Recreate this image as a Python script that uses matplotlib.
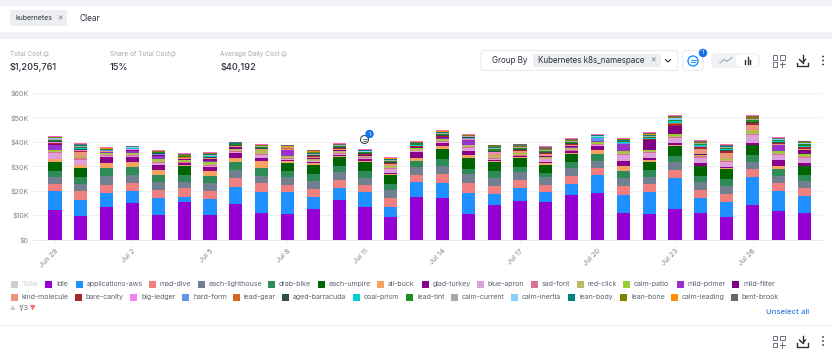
import numpy as np
import matplotlib
matplotlib.use("Agg")
import matplotlib.pyplot as plt
from matplotlib.patches import FancyBboxPatch, Rectangle, Circle, Polygon

plt.rcParams['font.family'] = ['Inter', 'DejaVu Sans']

# Data, daily cost in $K per namespace
dates = ["Jun 29", "Jun 30", "Jul 1", "Jul 2", "Jul 3", "Jul 4", "Jul 5", "Jul 6", "Jul 7", "Jul 8",
         "Jul 9", "Jul 10", "Jul 11", "Jul 12", "Jul 13", "Jul 14", "Jul 15", "Jul 16", "Jul 17", "Jul 18",
         "Jul 19", "Jul 20", "Jul 21", "Jul 22", "Jul 23", "Jul 24", "Jul 25", "Jul 26", "Jul 27", "Jul 28"]
y_ticks = [0, 10, 20, 30, 40, 50, 60]
y_labels = ["$0", "$10K", "$20K", "$30K", "$40K", "$50K", "$60K"]

idle = [11.9, 9.8, 13.3, 15.0, 10.0, 15.2, 10.2, 14.5, 10.9, 10.4, 12.6, 16.1, 13.4, 9.2, 17.3,
        16.9, 10.4, 14.1, 15.8, 15.3, 18.3, 19.1, 10.9, 10.4, 12.3, 10.8, 9.3, 14.1, 11.7, 10.7]
applications_aws = [7.8, 6.5, 5.7, 4.7, 6.8, 2.4, 6.5, 7.2, 8.4, 9.0, 5.0, 4.9, 6.0, 4.2, 6.2,
                    6.3, 8.6, 4.5, 5.1, 4.1, 4.5, 7.3, 7.4, 9.0, 13.0, 6.0, 6.0, 11.7, 8.0, 7.1]
mad_dive = [3.0, 3.4, 3.4, 3.5, 3.4, 3.3, 3.1, 3.4, 3.7, 3.0, 3.2, 3.3, 3.1, 3.4, 3.0,
            3.6, 4.0, 3.4, 3.4, 3.1, 3.2, 3.0, 3.6, 3.3, 3.1, 3.3, 3.4, 3.0, 3.3, 3.1]
each_lighthouse = [3.0, 3.0, 3.6, 3.3, 3.3, 2.6, 3.4, 3.3, 3.2, 3.1, 3.1, 3.2, 2.6, 3.3, 3.1,
                   3.5, 3.8, 3.3, 3.2, 3.2, 3.2, 2.7, 3.2, 3.0, 3.3, 3.4, 3.2, 3.0, 3.0, 3.1]
drab_bike = [2.3, 2.8, 3.1, 3.3, 2.9, 3.0, 2.8, 3.3, 3.0, 2.5, 3.1, 2.7, 2.9, 2.7, 2.6,
             2.6, 2.0, 2.6, 2.0, 1.5, 2.6, 2.9, 2.9, 2.7, 2.6, 2.7, 2.7, 3.0, 3.0, 2.6]
each_umpire = [3.6, 3.6, 0, 0, 0, 3.4, 0, 0, 0, 3.4, 3.6, 3.5, 3.6, 3.8, 0,
               4.1, 4.5, 3.9, 3.8, 3.5, 3.4, 0, 0, 3.3, 3.8, 3.9, 4.2, 3.7, 0, 3.5]
all_buck = [1.5, 1.3, 2.1, 1.9, 2.2, .5, 2.1, 1.8, 3.0, .6, .6, .6, .4, .4, 1.0,
            1.4, 1.4, .3, .3, .5, .3, 1.7, 2.1, .9, .7, 0, .4, .4, 1.1, 0]
glad_turkey = [0, 0, 2.5, 2.2, 2.0, .9, 1.7, 2.1, 1.0, .7, .5, .3, 1.1, .4, 2.7,
               1.0, 1.7, .6, .4, .6, .6, 1.7, 2.1, .8, .6, 1.1, .6, .7, 2.4, 1.1]
blue_apron = [2.2, 2.3, .5, .5, .6, .2, .4, .3, 1.6, .4, .3, .4, .3, 1.3, .2,
              .4, .9, .4, .2, 1.0, .2, .3, 2.4, 2.2, 2.3, 2.3, 1.9, 3.4, 2.0, 2.3]
sad_font = [.4, .5, .3, .3, .5, .2, .3, .3, .4, .3, .3, .4, .2, .4, .3,
            .4, .5, .3, .3, .3, .3, .3, .4, .2, .3, .5, .4, .3, .4, .3]
red_click = [.5, .3, .6, .5, .6, .5, .6, .7, 1.0, .5, .5, .8, .5, .7, .6,
             .7, .8, .6, .6, .5, .7, .2, .6, .4, .5, .3, .3, .3, .5, .3]
calm_patio = [.3, .2, .3, .4, .5, .4, .5, .3, .4, .3, .1, .2, .2, .2, .4,
              .4, .3, .2, .2, .2, .2, .7, .8, .3, .6, .5, .7, .7, .8, .8]
mild_primer = [2.2, 0, .4, .8, 1.6, 0, .4, 0, 0, 2.3, 0, 0, 0, 0, 0,
               .3, 1.7, 0, 0, 0, .3, .3, 2.7, 0, 0, 0, 0, 0, 2.5, 0]
mild_filter = [.3, .2, .2, .2, .3, .4, .9, .5, .2, .2, .4, .2, .2, .2, .3,
               .2, .2, .2, .3, .3, .3, .2, .1, 4.1, 3.3, .2, 0, 0, .2, 1.8]
kind_molecule = [.3, 2.0, .2, .1, 0, .3, .3, .4, .2, .3, .5, .5, .3, .7, .3,
                 .3, .3, 1.0, .7, .8, .6, .1, 0, .3, 0, 2.1, 2.3, 2.7, .3, .5]
bare_canity = [.4, .4, .2, .1, 0, .2, .2, .1, .1, 0, .4, .3, .1, .3, .1,
               .1, .1, .2, .4, .4, .3, 0, 0, .2, .8, .8, .7, .7, .2, .5]
big_ledger = [.2, .2, 0, .1, .1, 0, 0, 0, 0, 0, 0, 0, 0, .1, 0,
              0, 0, .1, 0, .2, .1, 0, 0, 0, 0, 0, 0, 0, 0, 0]
hard_form = [0, 0, .1, .2, .4, 0, .1, 0, 0, .1, 0, 0, .1, 0, 0,
             .1, .3, 0, 0, 0, 0, .9, .2, 0, .3, .2, 0, 0, .3, .1]
lead_gear = [0, .2, .1, 0, 0, .1, 0, .1, 0, .2, .1, 0, .1, .1, 0,
             .1, 0, .1, .1, .1, .1, 0, 0, .1, .2, 0, .3, .1, 0, 0]
aged_barracuda = [.4, .3, .1, .1, .1, .2, .2, .3, .3, .1, .2, .3, .3, .2, .3,
                  .2, .3, .4, .3, .3, .3, .1, .1, .1, .1, .3, .4, .2, .1, .2]
coal_prism = [.1, .4, .1, .2, .3, 0, .4, .2, .2, .1, 0, 0, .2, .3, .1,
              .3, .1, .1, 0, .1, .1, .3, .5, .2, .6, .1, .2, .1, .5, .4]
lead_tint = [.5, .4, .1, .1, .1, .2, .3, .2, .3, 0, .3, .4, .2, .3, .6,
             .5, .2, .7, .3, .3, .4, .1, .2, .4, .4, .5, .4, .7, .4, .6]
calm_current = [.4, .3, .1, .1, .1, .3, .3, .2, .2, .5, .3, .4, .2, .3, .2,
                .2, .2, .4, .3, .3, .3, .1, .2, .3, .3, .4, .4, .4, .2, .3]
calm_inertia = [.1, .1, 0, .1, .1, 0, .1, 0, .1, 0, .1, 0, .1, .1, 0,
                .1, .1, 0, 0, 0, 0, .5, .1, .1, .5, 0, 0, 0, .1, .1]
lean_body = [.2, .4, .1, .1, .1, .1, .3, .2, .2, 0, .4, .2, .4, .3, .2,
             .3, .1, .3, .2, .2, .2, .1, .3, .3, .3, .2, .3, .3, .2, .3]
lean_bone = [.2, .2, .1, .1, .1, .4, .2, .2, .2, 0, .3, .2, .1, .2, .3,
             .2, .1, .4, .4, .3, .3, .1, .2, .3, .2, .3, .2, .5, .1, .2]
calm_leading = [0, 0, .1, .1, 0, 0, 0, 0, 0, .3, .2, 0, 0, .2, 0,
                .1, .1, 0, 0, .1, 0, .1, .1, .2, .1, 0, 0, 0, 0, 0]
bent_brook = [.2, .3, .2, .1, .2, .4, .3, .2, .2, .2, .4, .4, .1, .2, .2,
              .2, .2, .4, .7, .6, .5, .1, .2, .6, .3, .4, .6, .5, .2, .3]
# series from the other legend pages, only the thin pink cap is visible
other_pages = [.3] * 30

series = [
    ("Idle", idle, "#9400D3"),
    ("applications-aws", applications_aws, "#1E90FF"),
    ("mad-dive", mad_dive, "#F08080"),
    ("each-lighthouse", each_lighthouse, "#708090"),
    ("drab-bike", drab_bike, "#2E8B57"),
    ("each-umpire", each_umpire, "#006400"),
    ("all-buck", all_buck, "#F4A460"),
    ("glad-turkey", glad_turkey, "#8B008B"),
    ("blue-apron", blue_apron, "#DDA0DD"),
    ("sad-font", sad_font, "#DB7093"),
    ("red-click", red_click, "#BDB76B"),
    ("calm-patio", calm_patio, "#9ACD32"),
    ("mild-primer", mild_primer, "#9932CC"),
    ("mild-filter", mild_filter, "#800080"),
    ("kind-molecule", kind_molecule, "#E9967A"),
    ("bare-canity", bare_canity, "#A52A2A"),
    ("big-ledger", big_ledger, "#EE82EE"),
    ("hard-form", hard_form, "#6495ED"),
    ("lead-gear", lead_gear, "#D2691E"),
    ("aged-barracuda", aged_barracuda, "#2F4F4F"),
    ("coal-prism", coal_prism, "#00CED1"),
    ("lead-tint", lead_tint, "#228B22"),
    ("calm-current", calm_current, "#A9A9A9"),
    ("calm-inertia", calm_inertia, "#87CEFA"),
    ("lean-body", lean_body, "#008080"),
    ("lean-bone", lean_bone, "#808000"),
    ("calm-leading", calm_leading, "#FF8C00"),
    ("bent-brook", bent_brook, "#696969"),
    ("", other_pages, "#FF69B4"),
]

W, H = 832, 353
fig = plt.figure(figsize=(W / 100, H / 100), dpi=100, facecolor="white")

# ---- chart ----
ax = fig.add_axes([33 / W, 1 - 239.5 / H, (822 - 33) / W, (239.5 - 93) / H])
ax.patch.set_alpha(0)
x = np.arange(len(dates))
bottom = np.zeros(len(dates))
for name, vals, col in series:
    vals = np.array(vals)
    ax.bar(x, vals, 0.51, bottom=bottom, color=col, linewidth=0, zorder=3)
    bottom += vals
ax.set_xlim(-0.85, 29.69)
ax.set_ylim(0, 60)
ax.set_yticks(y_ticks)
ax.set_yticklabels(y_labels, fontsize=5.2, color="#7d838e")
ax.set_xticks(x[::3])
ax.set_xticklabels(dates[::3], fontsize=5.2, color="#7d838e", rotation=45, ha="right", rotation_mode="anchor")
ax.tick_params(axis="y", length=0, pad=3)
ax.tick_params(axis="x", length=2, width=0.5, color="#dfe2e6", pad=4)
ax.grid(axis="y", color="#eef0f3", linewidth=0.7, zorder=0)
for s in ["top", "right", "left"]:
    ax.spines[s].set_visible(False)
ax.spines["bottom"].set_color("#e3e5e9")
ax.spines["bottom"].set_linewidth(0.6)

# ---- page furniture, in pixel coordinates ----
ui = fig.add_axes([0, 0, 1, 1], zorder=5)
ui.patch.set_alpha(0)
ui.set_xlim(0, W)
ui.set_ylim(H, 0)
ui.axis("off")


def chip(x0, y0, w, h, fc, ec="none", r=2):
    ui.add_patch(FancyBboxPatch((x0 + r, y0 + r), w - 2 * r, h - 2 * r, boxstyle=f"round,pad={r}",
                                fc=fc, ec=ec, lw=0.6))


def info_icon(cx, cy):
    ui.add_patch(Circle((cx, cy), 2.1, fc="none", ec="#a3a9b3", lw=0.5))
    ui.plot([cx, cx], [cy - 0.3, cy + 1.1], color="#a3a9b3", lw=0.5)


BAND = "#f0f2f5"
DARK = "#2b303a"
ui.add_patch(Rectangle((0, 0), W, 5.5, fc=BAND, ec="none"))
ui.add_patch(Rectangle((0, 31.5), W, 7.5, fc=BAND, ec="none"))
ui.plot([0, W], [325, 325], color="#f1f2f4", lw=1)

chip(10, 10, 57, 16, "#eceef2")
ui.text(15, 18.5, "kubernetes", fontsize=5.0, color=DARK, va="center")
ui.text(60, 18, "×", fontsize=6, color="#6f7682", va="center", ha="center")
ui.text(79, 18.5, "Clear", fontsize=6.0, color=DARK, va="center")

ui.text(10, 54, "Total Cost", fontsize=4.7, color="#a3a9b3", va="center")
info_icon(46, 54)
ui.text(10, 67, "$1,205,761", fontsize=6.6, color=DARK, va="center", fontweight="medium")
ui.text(109.5, 54, "Share of Total Cost", fontsize=4.7, color="#a3a9b3", va="center")
info_icon(173, 54)
ui.text(109.5, 67, "15%", fontsize=6.6, color=DARK, va="center", fontweight="medium")
ui.text(220.5, 54, "Average Daily Cost", fontsize=4.7, color="#a3a9b3", va="center")
info_icon(284, 54)
ui.text(220.5, 67, "$40,192", fontsize=6.6, color=DARK, va="center", fontweight="medium")

chip(481, 50.5, 197, 20, "white", ec="#e3e5e9", r=3)
ui.text(491.5, 60.5, "Group By", fontsize=5.8, color=DARK, va="center")
chip(533, 54, 128, 13, "#eceef2")
ui.text(538.5, 60.5, "Kubernetes k8s_namespace", fontsize=5.8, color=DARK, va="center")
ui.text(653, 60.5, "×", fontsize=6, color="#6f7682", va="center", ha="center")
ui.plot([665.5, 668, 670.5], [59.5, 62, 59.5], color=DARK, lw=0.8)

chip(683, 50.5, 20, 20, "white", ec="#e3e5e9", r=3)
ui.add_patch(Circle((693, 61), 5, fc="none", ec="#1E90FF", lw=1))
ui.plot([690.5, 695.5], [59.5, 59.5], color="#1E90FF", lw=0.7)
ui.plot([690.5, 694.5], [62, 62], color="#1E90FF", lw=0.7)
ui.add_patch(Circle((703, 53), 4.2, fc="#1570ef", ec="none"))
ui.text(703, 53, "1", fontsize=4.2, color="white", va="center", ha="center")

chip(711, 53, 49, 15, "#f0f2f5", r=6)
chip(736, 54.5, 22, 12, "white", r=5)
ui.plot([720, 724, 727, 732], [63, 59.5, 61.5, 57.5], color="#a3a9b3", lw=0.8)
for bx, bh in zip([745, 747.5, 750], [4, 7, 4.5]):
    ui.plot([bx, bx], [64, 64 - bh], color=DARK, lw=1)


def icon_row(cy):
    # add-widget squares, download arrow, kebab menu
    for bx, by in [(772.5, cy - 5.5), (780, cy - 5.5), (772.5, cy + 1.5)]:
        ui.add_patch(Rectangle((bx, by), 4.5, 4.5, fc="none", ec="#555b66", lw=0.6))
    ui.plot([779.5, 785], [cy + 3.7, cy + 3.7], color="#555b66", lw=0.6)
    ui.plot([782.2, 782.2], [cy + 1, cy + 6.5], color="#555b66", lw=0.6)
    ui.plot([802.5, 802.5], [cy - 5.5, cy + 2], color=DARK, lw=1)
    ui.plot([799.5, 802.5, 805.5], [cy - 1, cy + 2, cy - 1], color=DARK, lw=1)
    ui.plot([797, 797, 808, 808], [cy + 2, cy + 5.5, cy + 5.5, cy + 2], color=DARK, lw=1)
    for dy in [-4, 0, 4]:
        ui.add_patch(Circle((823, cy + dy), 0.9, fc=DARK, ec="none"))


icon_row(60.5)
icon_row(341)

# comment marker on the chart
ui.add_patch(Circle((364.5, 139.5), 4, fc="white", ec="#444a55", lw=0.8))
ui.plot([362.5, 366.5], [138.5, 138.5], color="#444a55", lw=0.5)
ui.plot([362.5, 366], [140.5, 140.5], color="#444a55", lw=0.5)
ui.add_patch(Circle((369.5, 134), 4.2, fc="#1570ef", ec="none"))
ui.text(369.5, 134, "1", fontsize=4.2, color="white", va="center", ha="center")

# ---- legend ----
colors = {name: col for name, vals, col in series}
colors["Total"] = "#cfcfcf"
legend_row1 = ["Total", "Idle", "applications-aws", "mad-dive", "each-lighthouse", "drab-bike", "each-umpire",
               "all-buck", "glad-turkey", "blue-apron", "sad-font", "red-click", "calm-patio", "mild-primer",
               "mild-filter"]
legend_x1 = [14, 48, 79, 152, 201, 271, 321, 380, 425, 480, 534, 580, 626, 680, 735]
legend_row2 = ["kind-molecule", "bare-canity", "big-ledger", "hard-form", "lead-gear", "aged-barracuda",
               "coal-prism", "lead-tint", "calm-current", "calm-inertia", "lean-body", "lean-bone",
               "calm-leading", "bent-brook"]
legend_x2 = [14, 78, 133, 185, 236, 285, 356, 409, 454, 514, 571, 623, 674, 734]
for names, xs, cy in [(legend_row1, legend_x1, 284), (legend_row2, legend_x2, 297)]:
    for name, cx in zip(names, xs):
        ui.add_patch(Rectangle((cx - 3.5, cy - 3.5), 7, 7, fc=colors[name], ec="none"))
        tc = "#c9ccd2" if name == "Total" else "#5d6472"
        ui.text(cx + 8, cy, name, fontsize=5.1, color=tc, va="center")

ui.add_patch(Polygon([[10, 310], [15.5, 310], [12.7, 305]], fc="#c9ccd2", ec="none"))
ui.text(18.5, 308, "1/3", fontsize=5.2, color="#5d6472", va="center")
ui.add_patch(Polygon([[30, 305], [35.5, 305], [32.7, 310.5]], fc="#f0706a", ec="none"))
ui.text(809, 311.5, "Unselect all", fontsize=5.6, color="#2f7de1", va="center", ha="right", fontweight="medium")

fig.savefig("out.png", dpi=100)
